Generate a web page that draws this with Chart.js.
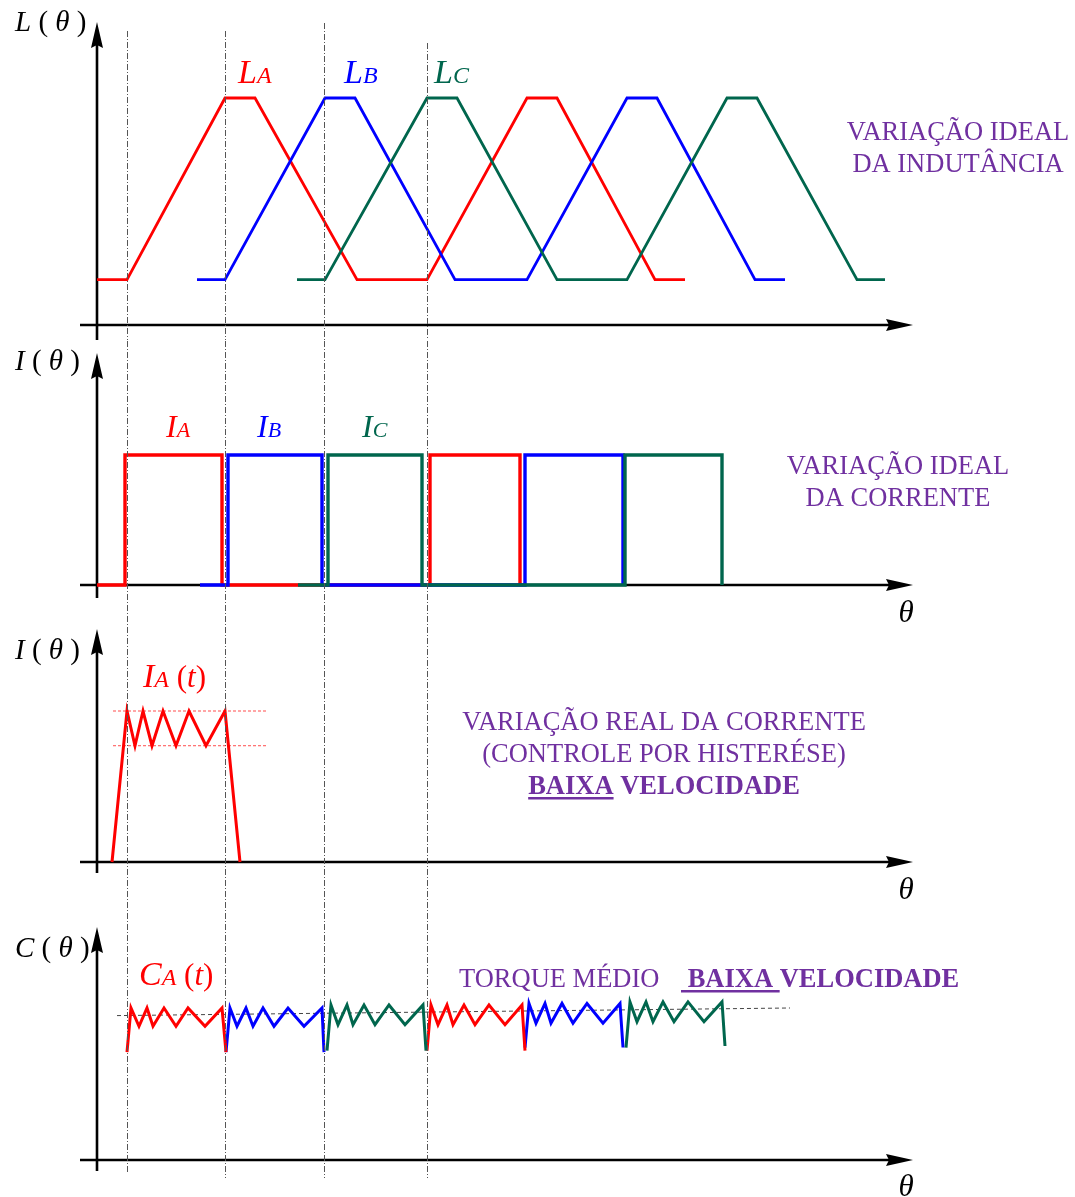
<!DOCTYPE html>
<html>
<head>
<meta charset="utf-8">
<script src="https://cdn.jsdelivr.net/npm/chart.js@4.4.0/dist/chart.umd.min.js"></script>
<style>
  body { margin: 0; background: #fff; }
  #wrap { position: relative; width: 1075px; height: 1197px; }
  #wrap canvas { position: absolute; left: 0; }
</style>
</head>
<body>
<div id="wrap">
  <canvas id="pL" width="1075" height="340" style="top:0px"></canvas>
  <canvas id="pI" width="1075" height="285" style="top:340px"></canvas>
  <canvas id="pIt" width="1075" height="280" style="top:625px"></canvas>
  <canvas id="pC" width="1075" height="292" style="top:905px"></canvas>
</div>
<script>
const RED = '#ff0000', BLUE = '#0000ff', GREEN = '#00664d', PURPLE = '#7030a0';

// commutation instants (dash-dot guides through all plots)
const guideTheta = [30, 128, 227, 330];

// ideal inductance profile of each phase
const thetaLA = [0, 30, 128, 158, 260, 330, 430, 460, 558, 588];
const valLA   = [1, 1, 5, 5, 1, 1, 5, 5, 1, 1];
const thetaLB = [100, 128, 228, 258, 358, 430, 530, 560, 658, 688];
const valLB   = [1, 1, 5, 5, 1, 1, 5, 5, 1, 1];
const thetaLC = [200, 228, 330, 360, 460, 530, 630, 660, 760, 788];
const valLC   = [1, 1, 5, 5, 1, 1, 5, 5, 1, 1];

// ideal (square) phase currents
const thetaIA = [0, 28, 28, 125, 125, 333, 333, 423, 423];
const valIA   = [0, 0, 10, 10, 0, 0, 10, 10, 0];
const thetaIB = [103, 131, 131, 225, 225, 428, 428, 526, 526];
const valIB   = [0, 0, 10, 10, 0, 0, 10, 10, 0];
const thetaIC = [201, 231, 231, 325, 325, 528, 528, 625, 625];
const valIC   = [0, 0, 10, 10, 0, 0, 10, 10, 0];

// phase A current under hysteresis control
const thetaIAt = [15, 30, 38, 46, 55, 66, 79, 92, 109, 128, 143];
const valIAt   = [0, 10, 7.7, 10, 7.7, 10, 7.7, 10, 7.7, 10, 0];
const thetaBand = [16, 171];
const valBandHigh = [10, 10];
const valBandLow  = [7.7, 7.7];

// torque, one piece per conduction interval
const thetaC1 = [30, 34, 42, 50, 56, 67, 79, 91, 108, 125, 129];
const valC1   = [7.1, 10.0, 8.8, 10.0, 8.8, 10.0, 8.8, 10.0, 8.8, 10.0, 7.1];
const thetaC2 = [129, 133, 140, 149, 156, 166, 177, 191, 207, 225, 227];
const valC2   = [7.1, 10.0, 8.8, 10.0, 8.8, 10.0, 8.8, 10.0, 8.8, 10.0, 7.1];
const thetaC3 = [230, 234, 241, 250, 256, 267, 278, 292, 308, 326, 329];
const valC3   = [7.2, 10.2, 8.9, 10.2, 8.9, 10.2, 8.9, 10.2, 8.9, 10.2, 7.2];
const thetaC4 = [330, 334, 341, 350, 356, 367, 378, 392, 408, 425, 428];
const valC4   = [7.2, 10.2, 8.9, 10.2, 8.9, 10.2, 8.9, 10.2, 8.9, 10.2, 7.2];
const thetaC5 = [428, 432, 439, 448, 454, 465, 476, 490, 506, 523, 526];
const valC5   = [7.4, 10.3, 9.0, 10.3, 9.0, 10.3, 9.0, 10.3, 9.0, 10.3, 7.4];
const thetaC6 = [529, 533, 540, 549, 556, 566, 577, 591, 607, 625, 628];
const valC6   = [7.4, 10.4, 9.1, 10.4, 9.1, 10.4, 9.1, 10.4, 9.1, 10.4, 7.5];
// mean torque
const thetaCavg = [20, 693];
const valCavg   = [9.5, 10.0];

const X0 = 97; // pixel column of θ = 0
const pts = (xs, ys) => xs.map((x, i) => ({ x: x, y: ys[i] }));

const SERIF = '"Liberation Serif", "DejaVu Serif", serif';
const f = (style, size) => style + ' ' + size + 'px ' + SERIF;

// extent of the guide lines on the whole page
const guideTop = [31, 31, 23, 43];
const guideBottom = [1172, 1178, 1178, 1178];

function drawRuns(ctx, item) {
  let w = 0;
  item.runs.forEach(r => { ctx.font = r.f; r.w = ctx.measureText(r.t).width; w += r.w; });
  let x = item.align === 'center' ? item.x - w / 2 : item.x;
  item.runs.forEach(r => {
    ctx.font = r.f;
    ctx.fillStyle = r.c || item.c || '#000';
    ctx.fillText(r.t, x, item.y);
    if (r.u) ctx.fillRect(x, item.y + 3, r.w, 2.5);
    x += r.w;
  });
}

const diagram = {
  id: 'diagram',
  beforeDatasetsDraw(chart, args, o) {
    const ctx = chart.ctx;
    const x0 = chart.scales.x.getPixelForValue(0);
    const y0 = chart.scales.y.getPixelForValue(0);
    ctx.save();
    ctx.strokeStyle = '#000';
    ctx.fillStyle = '#000';
    ctx.lineWidth = 2.6;
    ctx.beginPath();
    ctx.moveTo(80, y0); ctx.lineTo(890, y0);
    ctx.moveTo(x0, o.yBottom); ctx.lineTo(x0, o.yTip + 20);
    ctx.stroke();
    ctx.beginPath();
    ctx.moveTo(913, y0); ctx.lineTo(886, y0 - 6); ctx.lineTo(889, y0); ctx.lineTo(886, y0 + 6); ctx.closePath();
    ctx.moveTo(x0, o.yTip); ctx.lineTo(x0 - 6, o.yTip + 26); ctx.lineTo(x0, o.yTip + 23); ctx.lineTo(x0 + 6, o.yTip + 26); ctx.closePath();
    ctx.fill();
    ctx.restore();
  },
  afterDatasetsDraw(chart, args, o) {
    const ctx = chart.ctx;
    const H = chart.height;
    ctx.save();
    ctx.strokeStyle = '#555';
    ctx.lineWidth = 1;
    ctx.setLineDash([6, 2, 1, 2]);
    ctx.lineDashOffset = o.top;
    guideTheta.forEach((t, i) => {
      const x = Math.round(chart.scales.x.getPixelForValue(t)) + 0.5;
      const a = Math.max(guideTop[i] - o.top, 0);
      const b = Math.min(guideBottom[i] - o.top, H);
      if (b <= a) return;
      ctx.beginPath(); ctx.moveTo(x, a); ctx.lineTo(x, b); ctx.stroke();
    });
    ctx.setLineDash([]);
    ctx.textBaseline = 'alphabetic';
    o.texts.forEach(item => drawRuns(ctx, item));
    ctx.restore();
  }
};

function axisLabel(letter, y) {
  return { x: 15, y: y, runs: [
    { t: letter, f: f('italic', 29) }, { t: ' ( ', f: f('normal', 29) },
    { t: 'θ', f: f('italic', 29) }, { t: ' )', f: f('normal', 29) }] };
}
const thetaLabel = y => ({ x: 906, y: y, align: 'center', runs: [{ t: 'θ', f: f('italic', 31) }] });
const phaseLabel = (x, y, big, sub, c, s1, s2) => ({ x: x, y: y, c: c, runs: [
  { t: big, f: f('italic', s1) }, { t: sub, f: f('italic', s2) }] });
const note = (x, y, t) => ({ x: x, y: y, align: 'center', c: PURPLE, runs: [{ t: t, f: f('normal', 26.5) }] });
const timeLabel = (x, y, big) => ({ x: x, y: y, c: RED, runs: [
  { t: big, f: f('italic', 34) }, { t: 'A', f: f('italic', 24) },
  { t: ' (', f: f('normal', 31) }, { t: 't', f: f('italic', 31) }, { t: ')', f: f('normal', 31) }] });

// datasets listed first are painted on top
function makePanel(id, cfg) {
  const el = document.getElementById(id);
  const H = el.height;
  return new Chart(el, {
    type: 'scatter',
    data: {
      datasets: cfg.series.map(s => ({
        data: pts(s.x, s.y),
        borderColor: s.color,
        borderWidth: s.w,
        borderDash: s.dash || [],
        borderJoinStyle: 'miter',
        showLine: true,
        pointRadius: 0,
        fill: false,
        tension: 0
      }))
    },
    options: {
      responsive: false,
      animation: false,
      devicePixelRatio: 1,
      layout: { padding: 0 },
      plugins: {
        legend: { display: false },
        tooltip: { enabled: false },
        diagram: { top: cfg.top, yTip: cfg.yTip, yBottom: cfg.yBottom, texts: cfg.texts }
      },
      scales: {
        x: { type: 'linear', display: false, min: -X0, max: 1075 - X0 },
        y: { type: 'linear', display: false, min: -(H - cfg.axis) / cfg.ppu, max: cfg.axis / cfg.ppu }
      }
    },
    plugins: [diagram]
  });
}

makePanel('pL', {
  top: 0, axis: 325, ppu: 45.4, yTip: 22, yBottom: 340,
  series: [
    { x: thetaLC, y: valLC, color: GREEN, w: 2.8 },
    { x: thetaLB, y: valLB, color: BLUE, w: 2.8 },
    { x: thetaLA, y: valLA, color: RED, w: 2.8 }
  ],
  texts: [
    axisLabel('L', 31), thetaLabel(362),
    phaseLabel(238, 83, 'L', 'A', RED, 34, 24),
    phaseLabel(344, 83, 'L', 'B', BLUE, 34, 24),
    phaseLabel(434, 83, 'L', 'C', GREEN, 34, 24),
    note(958, 140, 'VARIAÇÃO IDEAL'), note(958, 172, 'DA INDUTÂNCIA')
  ]
});

makePanel('pI', {
  top: 340, axis: 245, ppu: 13, yTip: 13, yBottom: 258,
  series: [
    { x: thetaIC, y: valIC, color: GREEN, w: 3.4 },
    { x: thetaIB, y: valIB, color: BLUE, w: 3.4 },
    { x: thetaIA, y: valIA, color: RED, w: 3.4 }
  ],
  texts: [
    axisLabel('I', 30), thetaLabel(282),
    phaseLabel(166, 97, 'I', 'A', RED, 32, 22),
    phaseLabel(257, 97, 'I', 'B', BLUE, 32, 22),
    phaseLabel(362, 97, 'I', 'C', GREEN, 32, 22),
    note(898, 134, 'VARIAÇÃO IDEAL'), note(898, 166, 'DA CORRENTE')
  ]
});

makePanel('pIt', {
  top: 625, axis: 237, ppu: 15.1, yTip: 4, yBottom: 248,
  series: [
    { x: thetaIAt, y: valIAt, color: RED, w: 3 },
    { x: thetaBand, y: valBandHigh, color: 'rgba(255,0,0,0.7)', w: 1, dash: [3, 2] },
    { x: thetaBand, y: valBandLow, color: 'rgba(255,0,0,0.7)', w: 1, dash: [3, 2] }
  ],
  texts: [
    axisLabel('I', 34), thetaLabel(274),
    timeLabel(143, 62, 'I'),
    note(664, 105, 'VARIAÇÃO REAL DA CORRENTE'),
    note(664, 137, '(CONTROLE POR HISTERÉSE)'),
    { x: 664, y: 169, align: 'center', c: PURPLE, runs: [
      { t: 'BAIXA', f: f('bold', 26.5), u: true }, { t: ' VELOCIDADE', f: f('bold', 26.5) }] }
  ]
});

makePanel('pC', {
  top: 905, axis: 255, ppu: 15.2, yTip: 22, yBottom: 266,
  series: [
    { x: thetaC1, y: valC1, color: RED, w: 3 },
    { x: thetaC2, y: valC2, color: BLUE, w: 3 },
    { x: thetaC3, y: valC3, color: GREEN, w: 3 },
    { x: thetaC4, y: valC4, color: RED, w: 3 },
    { x: thetaC5, y: valC5, color: BLUE, w: 3 },
    { x: thetaC6, y: valC6, color: GREEN, w: 3 },
    { x: thetaCavg, y: valCavg, color: '#444', w: 1, dash: [4, 3] }
  ],
  texts: [
    axisLabel('C', 52), thetaLabel(291),
    timeLabel(139, 80, 'C'),
    { x: 459, y: 82, c: PURPLE, runs: [{ t: 'TORQUE MÉDIO', f: f('normal', 26.5) }] },
    { x: 681, y: 82, c: PURPLE, runs: [
      { t: ' BAIXA ', f: f('bold', 26.5), u: true }, { t: 'VELOCIDADE', f: f('bold', 26.5) }] }
  ]
});
</script>
</body>
</html>
